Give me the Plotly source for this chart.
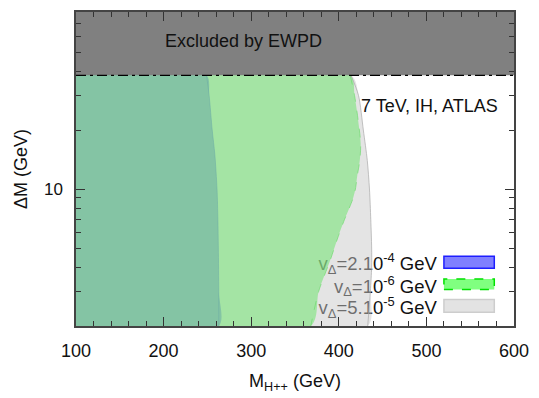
import math
import plotly.graph_objects as go

# ---------------- data ----------------
# boundaries of the allowed regions: M_H++ (GeV) reached at each Delta M (GeV)
dm_blue = [38, 30, 20, 15, 10, 7, 5, 3, 2]
mh_blue = [249, 252, 255.5, 258.5, 261, 262, 262.5, 263, 263]

dm_green = [38, 30, 20, 17, 14, 11.6, 10, 8.9, 6.8, 5.5, 4.3, 3, 2]
mh_green = [413, 418, 423.5, 425, 424, 421, 419, 416, 405.5, 398, 390, 377, 368]

dm_gray = [38, 30, 20, 14, 10, 7, 5, 4, 3, 2]
mh_gray = [414, 422.5, 428, 432.5, 435, 436.5, 437.5, 437.5, 436, 433]

ewpd_bound = 38          # Delta M above which EWPD excludes
x_range = [100, 600]
y_range = [2, 80]
x_ticks = [100, 200, 300, 400, 500, 600]
y_major = [10]
y_minor = [3, 4, 5, 6, 7, 8, 9, 20, 30, 40, 50, 60, 70]

legend_labels = ["v<sub>Δ</sub>=2.10<sup>-4</sup> GeV",
                 "v<sub>Δ</sub>=10<sup>-6</sup> GeV",
                 "v<sub>Δ</sub>=5.10<sup>-5</sup> GeV"]

FONT = "Liberation Sans, Arial, sans-serif"

fig = go.Figure()

# legend labels (drawn first so the translucent regions shade them)
leg_x = 512
leg_y = [4.07, 3.13, 2.43]
fig.add_trace(go.Scatter(x=[leg_x] * 3, y=leg_y, mode="text", text=legend_labels,
                         textposition="middle left",
                         textfont=dict(family=FONT, size=18.5, color="#111"),
                         hoverinfo="skip", showlegend=False))


def region(mh, dm):
    xs = [x_range[0]] + list(mh) + [x_range[0]]
    ys = [dm[0]] + list(dm) + [dm[-1]]
    return xs, ys


specs = [
    (mh_blue, dm_blue, "rgba(0,0,255,0.5)", dict(color="rgba(0,0,255,0.45)", width=1)),
    (mh_green, dm_green, "rgba(0,255,0,0.5)", dict(color="rgba(0,230,0,0.6)", width=1, dash="dash")),
    (mh_gray, dm_gray, "rgba(201,201,201,0.5)", dict(color="rgba(170,170,170,0.7)", width=1)),
]
for mh, dm, fc, ln in specs:
    xs, ys = region(mh, dm)
    fig.add_trace(go.Scatter(x=xs, y=ys, fill="toself", fillcolor=fc, mode="lines",
                             line=dict(width=0, shape="spline", smoothing=0.8),
                             hoverinfo="skip", showlegend=False))
    fig.add_trace(go.Scatter(x=mh, y=dm, mode="lines",
                             line=dict(shape="spline", smoothing=0.8, **ln),
                             hoverinfo="skip", showlegend=False))

# excluded by EWPD
fig.add_trace(go.Scatter(x=[x_range[0], x_range[1], x_range[1], x_range[0]],
                         y=[ewpd_bound, ewpd_bound, y_range[1], y_range[1]],
                         fill="toself", fillcolor="#808080", mode="none",
                         hoverinfo="skip", showlegend=False))
fig.add_trace(go.Scatter(x=x_range, y=[ewpd_bound, ewpd_bound], mode="lines",
                         line=dict(color="black", width=1.2, dash="10px,4px,3px,4px"),
                         hoverinfo="skip", showlegend=False))

# legend patches
patches = [
    (0.184, 0.222, "rgb(128,128,255)", dict(color="rgb(30,30,255)", width=1.5)),
    (0.116, 0.150, "rgb(128,255,128)", dict(color="rgb(0,225,0)", width=1.5, dash="dash")),
    (0.044, 0.084, "rgb(227,227,227)", dict(color="rgb(205,205,205)", width=1.5)),
]
for y0, y1, fc, ln in patches:
    fig.add_shape(type="rect", xref="paper", yref="paper", x0=0.840, x1=0.955,
                  y0=y0, y1=y1, fillcolor=fc, line=ln)

fig.add_annotation(text="Excluded by EWPD", xref="paper", yref="paper",
                   x=0.383, y=0.947, showarrow=False,
                   font=dict(family=FONT, size=18, color="#111"))
fig.add_annotation(text="7 TeV, IH, ATLAS", xref="paper", yref="paper",
                   x=0.968, y=0.7375, xanchor="right", showarrow=False,
                   font=dict(family=FONT, size=18, color="#111"))

axis_common = dict(showgrid=False, zeroline=False, showline=True, linecolor="#444",
                   linewidth=1.5, mirror="ticks", ticks="inside", ticklen=9,
                   tickwidth=1, tickcolor="#333")

fig.update_layout(
    width=539, height=398,
    margin=dict(l=76, r=20, t=10, b=68),
    plot_bgcolor="white", paper_bgcolor="white",
    font=dict(family=FONT, color="#111"),
    xaxis=dict(range=x_range, tickvals=x_ticks, tickfont=dict(size=18),
               ticklabelstandoff=8,
               minor=dict(dtick=20, ticks="inside", ticklen=5, tickcolor="#333"),
               title=dict(text="M<sub>H++</sub> (GeV)", font=dict(size=18), standoff=14),
               **axis_common),
    yaxis=dict(type="log", range=[math.log10(y_range[0]), math.log10(y_range[1])],
               tickvals=y_major, ticktext=[str(v) for v in y_major],
               tickfont=dict(size=17), ticklabelstandoff=8,
               minor=dict(tickvals=y_minor, ticks="inside", ticklen=5, tickcolor="#333"),
               title=dict(text="ΔM (GeV)", font=dict(size=18), standoff=12),
               **axis_common),
)

fig.write_html("out.html")
